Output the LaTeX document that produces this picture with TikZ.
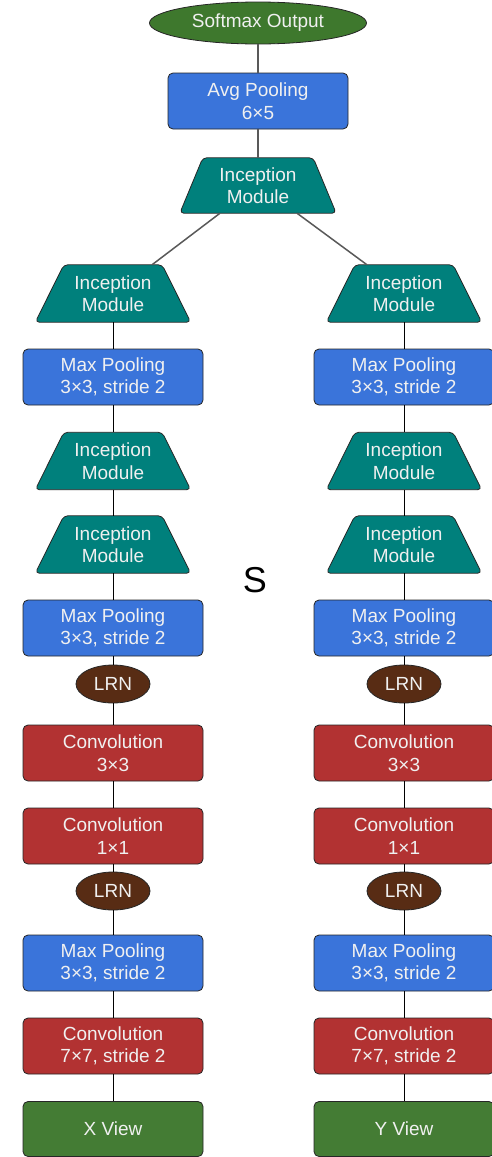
\documentclass[tikz,border=0pt]{standalone}
\usepackage{fontspec}
\setmainfont{Liberation Sans}
\usetikzlibrary{shapes.geometric,calc,backgrounds}
\definecolor{cblue}{RGB}{58,116,218}
\definecolor{cteal}{RGB}{0,128,124}
\definecolor{cred}{RGB}{178,50,50}
\definecolor{cgreen}{RGB}{62,120,45}
\definecolor{cview}{RGB}{68,124,52}
\definecolor{cbrown}{RGB}{88,44,20}
\definecolor{ctext}{RGB}{240,240,240}
\newcommand{\lbfont}{\fontsize{19pt}{22.5pt}\selectfont}
% \incnode{name}{x}{y}{width}{height}{offset}
\newcommand{\incnode}[6]{%
  \node[incbox, minimum width=#4pt, minimum height=#5pt] (#1) at (#2,#3) {Inception\\Module};
  \begin{scope}[on background layer]
    \filldraw[incshape] (#1.south west) -- ($(#1.north west)+(#6,0)$) -- ($(#1.north east)+(-#6,0)$) -- (#1.south east) -- cycle;
  \end{scope}}
\begin{document}
\begin{tikzpicture}[x=1pt,y=-1pt,
  base/.style={draw=black!85, line width=0.8pt, text=ctext, font=\lbfont, align=center, inner sep=0pt},
  bluebox/.style={base, rectangle, rounded corners=5pt, fill=cblue, minimum width=180pt, minimum height=56pt},
  redbox/.style={base, rectangle, rounded corners=5pt, fill=cred, minimum width=180pt, minimum height=56pt},
  viewbox/.style={base, rectangle, rounded corners=5pt, fill=cview, minimum width=180pt, minimum height=55pt},
  incbox/.style={rectangle, text=ctext, font=\lbfont, align=center, inner sep=0pt},
  incshape/.style={draw=black!85, line width=0.8pt, fill=cteal, rounded corners=4pt},
  lrn/.style={base, ellipse, fill=cbrown, minimum width=74pt, minimum height=38pt},
  softmax/.style={base, ellipse, fill=cgreen, minimum width=217pt, minimum height=42pt},
  topline/.style={draw=black!65, line width=1.5pt},
  colline/.style={draw=black, line width=0.9pt}
]
\useasboundingbox (0,0) rectangle (492,1157);
\begin{scope}[on background layer]
  \fill[white] (0,0) rectangle (492,1157);
\end{scope}

\node[softmax] (soft) at (258,23) {Softmax Output};
\node[bluebox] (avg) at (258,101) {Avg Pooling\\6×5};
\incnode{tinc}{258}{185.5}{156}{55}{23}

\foreach \c/\x in {L/113,R/404}{
  \incnode{incA\c}{\x}{293.5}{155}{57}{28.5}
  \node[bluebox] (mpA\c) at (\x,377) {Max Pooling\\3×3, stride 2};
  \incnode{incB\c}{\x}{461}{155}{57}{28.5}
  \incnode{incC\c}{\x}{544.5}{155}{57}{28.5}
  \node[bluebox] (mpB\c) at (\x,628) {Max Pooling\\3×3, stride 2};
  \node[lrn] (lrnA\c) at (\x,684) {LRN};
  \node[redbox] (cvA\c) at (\x,753) {Convolution\\3×3};
  \node[redbox] (cvB\c) at (\x,836) {Convolution\\1×1};
  \node[lrn] (lrnB\c) at (\x,891) {LRN};
  \node[bluebox] (mpC\c) at (\x,963) {Max Pooling\\3×3, stride 2};
  \node[redbox] (cvC\c) at (\x,1046) {Convolution\\7×7, stride 2};
  \path (\x,1129) node[viewbox] (view\c) {};
  \draw[colline] (incA\c) -- (mpA\c);
  \draw[colline] (mpA\c) -- (incB\c);
  \draw[colline] (incB\c) -- (incC\c);
  \draw[colline] (incC\c) -- (mpB\c);
  \draw[colline] (mpB\c) -- (lrnA\c);
  \draw[colline] (lrnA\c) -- (cvA\c);
  \draw[colline] (cvA\c) -- (cvB\c);
  \draw[colline] (cvB\c) -- (lrnB\c);
  \draw[colline] (lrnB\c) -- (mpC\c);
  \draw[colline] (mpC\c) -- (cvC\c);
  \draw[colline] (cvC\c) -- (view\c);
}
\node[font=\lbfont, text=ctext] at (viewL) {X View};
\node[font=\lbfont, text=ctext] at (viewR) {Y View};

\draw[topline] (soft) -- (avg);
\draw[topline] (avg) -- (tinc);
\draw[topline] ($(tinc.south)+(-38,0)$) -- ($(incAL.north)+(39,0)$);
\draw[topline] ($(tinc.south)+(39,0)$) -- ($(incAR.north)+(-37,0)$);

\node[font=\fontsize{36pt}{40pt}\selectfont, text=black] (s) at (255,580) {S};
\end{tikzpicture}
\end{document}
